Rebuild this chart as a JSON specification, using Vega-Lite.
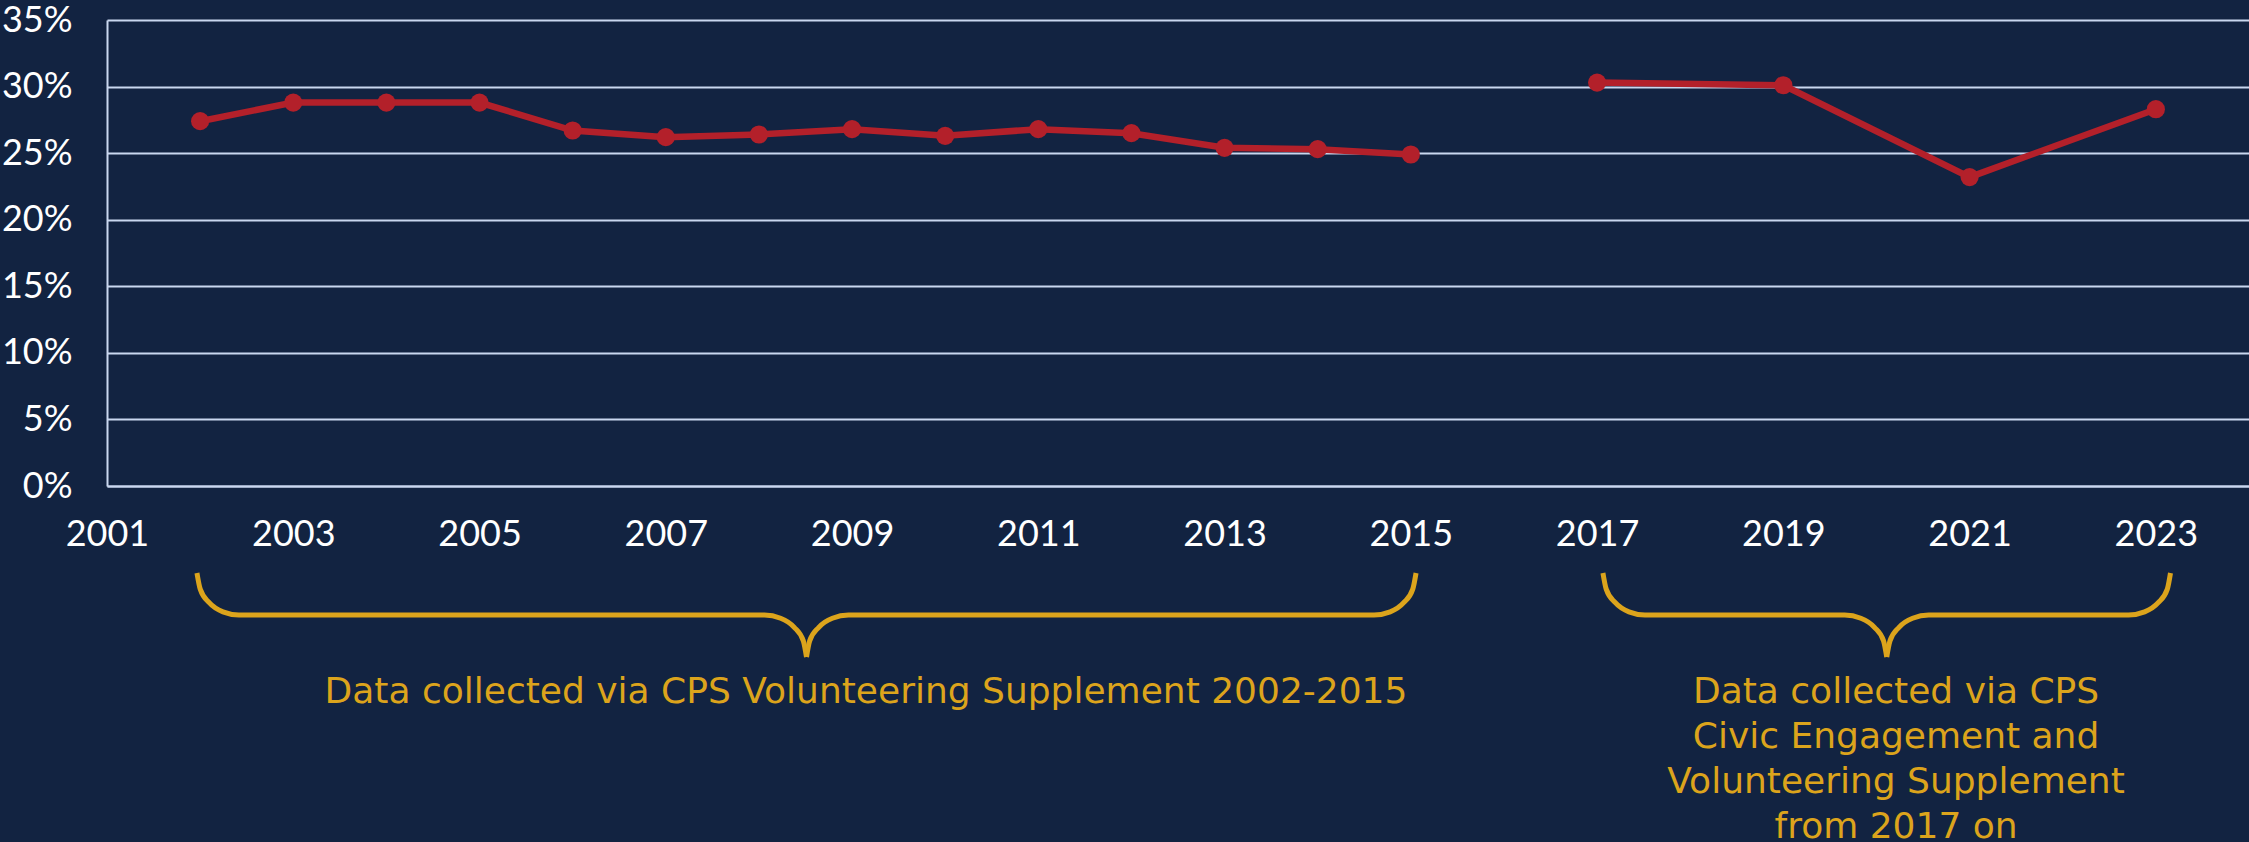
{
  "$schema": "https://vega.github.io/schema/vega-lite/v6.json",
  "width": 2142,
  "height": 466,
  "autosize": {"type": "none"},
  "padding": {"left": 107, "top": 20, "right": 0, "bottom": 356},
  "background": "#122341",
  "config": {
    "view": {"stroke": null},
    "font": "Lato",
    "axis": {
      "labelFont": "Lato",
      "labelFontSize": 36,
      "labelColor": "#FFFFFF",
      "ticks": false,
      "tickSize": 0,
      "domainColor": "#C9D7EF",
      "domainWidth": 2,
      "gridColor": "#C9D7EF",
      "gridWidth": 2,
      "gridOpacity": 1,
      "labelFlush": false,
      "labelOverlap": false
    }
  },
  "datasets": {
    "rates": [
      {"year": 2002, "value": 27.4, "period": "2002-2015"},
      {"year": 2003, "value": 28.8, "period": "2002-2015"},
      {"year": 2004, "value": 28.8, "period": "2002-2015"},
      {"year": 2005, "value": 28.8, "period": "2002-2015"},
      {"year": 2006, "value": 26.7, "period": "2002-2015"},
      {"year": 2007, "value": 26.2, "period": "2002-2015"},
      {"year": 2008, "value": 26.4, "period": "2002-2015"},
      {"year": 2009, "value": 26.8, "period": "2002-2015"},
      {"year": 2010, "value": 26.3, "period": "2002-2015"},
      {"year": 2011, "value": 26.8, "period": "2002-2015"},
      {"year": 2012, "value": 26.5, "period": "2002-2015"},
      {"year": 2013, "value": 25.4, "period": "2002-2015"},
      {"year": 2014, "value": 25.3, "period": "2002-2015"},
      {"year": 2015, "value": 24.9, "period": "2002-2015"},
      {"year": 2017, "value": 30.3, "period": "2017-2023"},
      {"year": 2019, "value": 30.1, "period": "2017-2023"},
      {"year": 2021, "value": 23.2, "period": "2017-2023"},
      {"year": 2023, "value": 28.3, "period": "2017-2023"}
    ],
    "braces": [
      {"part": "b1L", "year": 2001.966, "value": -6.535},
      {"part": "b1L", "year": 2002.001, "value": -7.744},
      {"part": "b1L", "year": 2002.098, "value": -8.765},
      {"part": "b1L", "year": 2002.245, "value": -9.449},
      {"part": "b1L", "year": 2002.417, "value": -9.689},
      {"part": "b1L", "year": 2008.060, "value": -9.689},
      {"part": "b1L", "year": 2008.233, "value": -9.930},
      {"part": "b1L", "year": 2008.379, "value": -10.613},
      {"part": "b1L", "year": 2008.477, "value": -11.635},
      {"part": "b1L", "year": 2008.511, "value": -12.844},
      {"part": "b1R", "year": 2008.511, "value": -12.844},
      {"part": "b1R", "year": 2008.545, "value": -11.635},
      {"part": "b1R", "year": 2008.643, "value": -10.613},
      {"part": "b1R", "year": 2008.789, "value": -9.930},
      {"part": "b1R", "year": 2008.962, "value": -9.689},
      {"part": "b1R", "year": 2014.605, "value": -9.689},
      {"part": "b1R", "year": 2014.778, "value": -9.449},
      {"part": "b1R", "year": 2014.923, "value": -8.765},
      {"part": "b1R", "year": 2015.021, "value": -7.744},
      {"part": "b1R", "year": 2015.056, "value": -6.535},
      {"part": "b2L", "year": 2017.063, "value": -6.535},
      {"part": "b2L", "year": 2017.098, "value": -7.744},
      {"part": "b2L", "year": 2017.196, "value": -8.765},
      {"part": "b2L", "year": 2017.342, "value": -9.449},
      {"part": "b2L", "year": 2017.514, "value": -9.689},
      {"part": "b2L", "year": 2019.659, "value": -9.689},
      {"part": "b2L", "year": 2019.832, "value": -9.930},
      {"part": "b2L", "year": 2019.978, "value": -10.613},
      {"part": "b2L", "year": 2020.076, "value": -11.635},
      {"part": "b2L", "year": 2020.110, "value": -12.844},
      {"part": "b2R", "year": 2020.110, "value": -12.844},
      {"part": "b2R", "year": 2020.145, "value": -11.635},
      {"part": "b2R", "year": 2020.242, "value": -10.613},
      {"part": "b2R", "year": 2020.388, "value": -9.930},
      {"part": "b2R", "year": 2020.561, "value": -9.689},
      {"part": "b2R", "year": 2022.706, "value": -9.689},
      {"part": "b2R", "year": 2022.879, "value": -9.449},
      {"part": "b2R", "year": 2023.025, "value": -8.765},
      {"part": "b2R", "year": 2023.123, "value": -7.744},
      {"part": "b2R", "year": 2023.157, "value": -6.535}
    ],
    "notes": [
      {"year": 2009.15, "value": -16.3, "label": "Data collected via CPS Volunteering Supplement 2002-2015"},
      {"year": 2020.21, "value": -16.3, "label": "Data collected via CPS\nCivic Engagement and\nVolunteering Supplement\nfrom 2017 on"}
    ]
  },
  "layer": [
    {
      "data": {"name": "rates"},
      "mark": {"type": "line", "color": "#B3202A", "strokeWidth": 6.5},
      "encoding": {
        "x": {
          "field": "year", "type": "quantitative", "title": null,
          "scale": {"domain": [2001, 2024], "nice": false, "zero": false},
          "axis": {
            "values": [2001, 2003, 2005, 2007, 2009, 2011, 2013, 2015, 2017, 2019, 2021, 2023],
            "format": "d", "grid": false, "domain": true, "labelPadding": 31
          }
        },
        "y": {
          "field": "value", "type": "quantitative", "title": null,
          "scale": {"domain": [0, 35], "nice": false},
          "axis": {
            "values": [0, 5, 10, 15, 20, 25, 30, 35],
            "labelExpr": "datum.value + '%'",
            "grid": true, "domain": true, "labelPadding": 35
          }
        },
        "detail": {"field": "period"}
      }
    },
    {
      "data": {"name": "rates"},
      "mark": {"type": "point", "filled": true, "color": "#B3202A", "size": 330, "opacity": 1},
      "encoding": {
        "x": {"field": "year", "type": "quantitative", "title": null, "scale": {"domain": [2001, 2024], "nice": false, "zero": false}},
        "y": {"field": "value", "type": "quantitative", "title": null, "scale": {"domain": [0, 35], "nice": false}}
      }
    },
    {
      "data": {"name": "braces"},
      "mark": {"type": "line", "color": "#DCA41C", "strokeWidth": 5, "interpolate": "monotone"},
      "encoding": {
        "x": {"field": "year", "type": "quantitative", "title": null, "scale": {"domain": [2001, 2024], "nice": false, "zero": false}},
        "y": {"field": "value", "type": "quantitative", "title": null, "scale": {"domain": [0, 35], "nice": false}},
        "detail": {"field": "part"}
      }
    },
    {
      "data": {"name": "notes"},
      "mark": {"type": "text", "color": "#DCA41C", "font": "DejaVu Sans", "fontSize": 36, "lineBreak": "\n", "lineHeight": 45, "align": "center", "baseline": "alphabetic"},
      "encoding": {
        "x": {"field": "year", "type": "quantitative", "title": null, "scale": {"domain": [2001, 2024], "nice": false, "zero": false}},
        "y": {"field": "value", "type": "quantitative", "title": null, "scale": {"domain": [0, 35], "nice": false}},
        "text": {"field": "label"}
      }
    }
  ]
}
